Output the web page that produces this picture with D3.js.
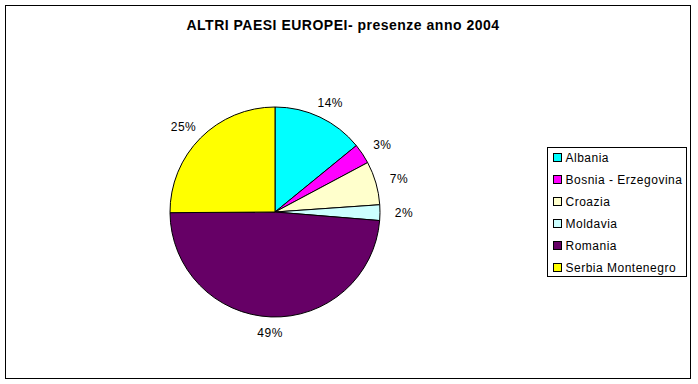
<!DOCTYPE html>
<html>
<head>
<meta charset="utf-8">
<script src="https://cdn.jsdelivr.net/npm/d3@7"></script>
<style>
  body { margin: 0; background: #fff; }
  text { font-family: "Liberation Sans", Arial, sans-serif; fill: #000; }
</style>
</head>
<body>
<div id="chart"></div>
<script>
// data (share of presences, %)
var countries = ["Albania", "Bosnia - Erzegovina", "Croazia", "Moldavia", "Romania", "Serbia Montenegro"];
var shares = [14.1, 3.1, 6.7, 2.4, 48.6, 25.1];
var sliceColors = ["#00ffff", "#ff00ff", "#ffffcc", "#ccffff", "#660066", "#ffff00"];
var title = "ALTRI PAESI EUROPEI- presenze anno 2004";

var svgWidth = 698;
var svgHeight = 384;

var svg = d3.select("#chart")
  .append("svg")
  .attr("width", svgWidth)
  .attr("height", svgHeight);

// chart area border
svg.append("rect")
  .attr("x", 5.5).attr("y", 5.5)
  .attr("width", 685).attr("height", 373)
  .attr("fill", "#fff")
  .attr("stroke", "#000");

svg.append("text")
  .attr("x", 343)
  .attr("y", 30)
  .attr("text-anchor", "middle")
  .attr("font-size", 14)
  .attr("font-weight", "bold")
  .attr("letter-spacing", 0.5)
  .text(title);

var data = countries.map(function(c, i) {
  return { name: c, value: shares[i], color: sliceColors[i] };
});

var cx = 275, cy = 212, radius = 105;
var pie = d3.pie().sort(null).value(d => d.value);
var arc = d3.arc().innerRadius(0).outerRadius(radius);
var total = d3.sum(shares);

var g = svg.append("g").attr("transform", `translate(${cx}, ${cy})`);

g.selectAll("path")
  .data(pie(data))
  .enter()
  .append("path")
  .attr("d", arc)
  .attr("fill", d => d.data.color)
  .attr("stroke", "#000")
  .attr("stroke-width", 1);

// labels just outside the rim
var labelR = 113;
g.selectAll("text.pct")
  .data(pie(data))
  .enter()
  .append("text")
  .attr("class", "pct")
  .attr("font-size", 12)
  .attr("letter-spacing", 0.5)
  .attr("text-anchor", "middle")
  .attr("dy", "0.35em")
  .attr("transform", function(d) {
    var a = (d.startAngle + d.endAngle) / 2;
    var s = Math.sin(a), c = -Math.cos(a);
    var x = s * labelR + s * 16;
    var y = c * labelR + c * 8;
    return `translate(${x}, ${y})`;
  })
  .text(d => Math.round(d.data.value / total * 100) + "%");

// legend
var legend = svg.append("g").attr("transform", "translate(547.5, 147.5)");
legend.append("rect")
  .attr("width", 139).attr("height", 129)
  .attr("fill", "#fff")
  .attr("stroke", "#000");

var item = legend.selectAll("g.item")
  .data(data)
  .enter()
  .append("g")
  .attr("class", "item")
  .attr("transform", (d, i) => `translate(6, ${10 + i * 22})`);

item.append("rect")
  .attr("x", 0).attr("y", -4)
  .attr("width", 8).attr("height", 8)
  .attr("fill", d => d.color)
  .attr("stroke", "#000");

item.append("text")
  .attr("x", 12)
  .attr("dy", "0.35em")
  .attr("font-size", 12)
  .attr("letter-spacing", 0.5)
  .text(d => d.name);
</script>
</body>
</html>
